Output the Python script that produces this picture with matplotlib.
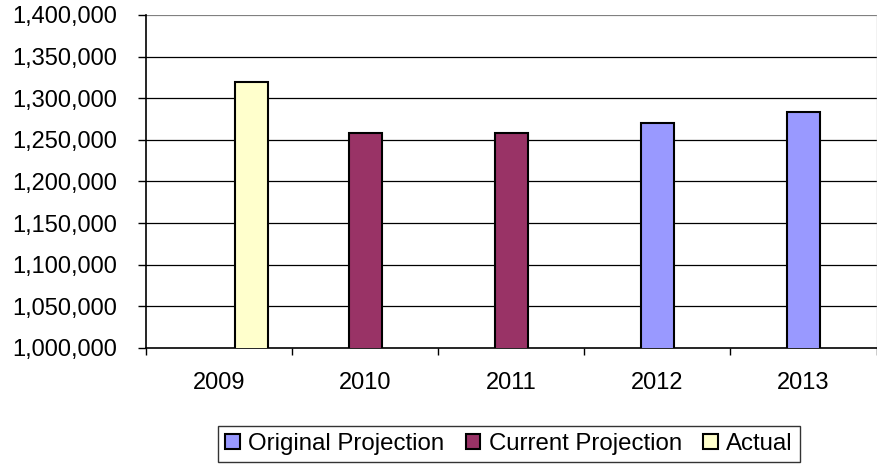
import matplotlib
matplotlib.use("Agg")
import matplotlib.pyplot as plt
import numpy as np
from matplotlib.ticker import FuncFormatter

years = ["2009", "2010", "2011", "2012", "2013"]
original_projection = [None, None, None, 1270000, 1283000]
current_projection = [None, 1258000, 1258000, None, None]
actual = [1320000, None, None, None, None]

series = [
    ("Original Projection", original_projection, "#9999FF", 0.0),
    ("Current Projection", current_projection, "#993366", 0.0),
    ("Actual", actual, "#FFFFCC", 1.0),
]

plt.rcParams['font.family'] = ['Liberation Sans', 'DejaVu Sans']

fig = plt.figure(figsize=(8.77, 4.67), dpi=100)
ax = fig.add_axes([146/877, 1 - 348/467, (876.5 - 146)/877, (348 - 15)/467])

bar_w = 0.225
x = np.arange(len(years))
handles = []
for name, vals, color, off in series:
    xs = [xi + off * bar_w for xi, v in zip(x, vals) if v is not None]
    hs = [v for v in vals if v is not None]
    b = ax.bar(xs, hs, width=bar_w, color=color, edgecolor="black",
               linewidth=1.5, zorder=3, label=name)
    handles.append(b)

ax.set_ylim(1000000, 1400000)
ax.set_xlim(-0.5, len(years) - 0.5)
yt = np.arange(1000000, 1400001, 50000)
ax.set_yticks(yt)
ax.yaxis.set_major_formatter(FuncFormatter(lambda v, p: f"{int(v):,}"))
for v in yt[1:-1]:
    ax.axhline(v, color="black", linewidth=0.9, zorder=1)
ax.axhline(1400000, color="#808080", linewidth=1.6, zorder=1)

ax.set_xticks(x)
ax.set_xticklabels(years)
ax.set_xticks(np.arange(-0.5, len(years) + 0.5, 1), minor=True)
ax.tick_params(axis="x", which="major", length=0, pad=17, labelsize=17)
ax.tick_params(axis="x", which="minor", length=5, width=1, direction="out", color="black")
ax.tick_params(axis="y", length=6, width=1, direction="out", pad=15, labelsize=17)

for s in ["left", "bottom"]:
    ax.spines[s].set_color("black")
    ax.spines[s].set_linewidth(1.2)
ax.spines["top"].set_visible(False)
ax.spines["right"].set_color("#c0c0c0")
ax.spines["right"].set_linewidth(1)

leg = fig.legend(handles, [h.get_label() for h in handles], loc="center",
                 bbox_to_anchor=(509/877, 1 - 444/467), ncol=3, frameon=True,
                 fancybox=False, edgecolor="black", fontsize=17.3,
                 handlelength=0.6, handleheight=0.6, handletextpad=0.35,
                 columnspacing=0.9, borderpad=0.3)
leg.get_frame().set_linewidth(1.0)

fig.savefig("out.png", dpi=100, facecolor="white")
